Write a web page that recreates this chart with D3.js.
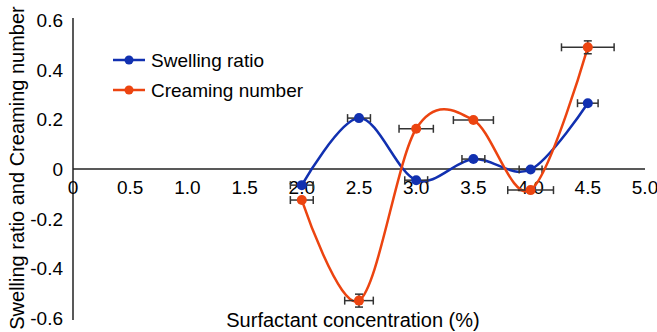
<!DOCTYPE html>
<html>
<head>
<meta charset="utf-8">
<script src="https://cdn.jsdelivr.net/npm/d3@7"></script>
<style>
	body { margin: 0; background: #fff; }
	text { font-family: "Liberation Sans", Arial, sans-serif; fill: #000; }
</style>
</head>
<body>
<div class="chart"></div>
<script>
	// data
	var conc = [2.0, 2.5, 3.0, 3.5, 4.0, 4.5];
	var swelling = [-0.065, 0.205, -0.045, 0.04, -0.002, 0.265];
	var creaming = [-0.125, -0.53, 0.162, 0.197, -0.085, 0.49];
	var swellingErrX = [0.1, 0.1, 0.1, 0.1, 0.1, 0.09];
	var creamingErrX = [0.1, 0.125, 0.15, 0.175, 0.2, 0.23];
	var swellingErrY = [0, 0, 0, 0, 0, 0];
	var creamingErrY = [0, 0.026, 0, 0, 0, 0.026];
	var xTicks = [0, 0.5, 1.0, 1.5, 2.0, 2.5, 3.0, 3.5, 4.0, 4.5, 5.0];
	var yTicks = [0.6, 0.4, 0.2, 0, -0.2, -0.4, -0.6];

	var width = 657,
		height = 332;

	var svg = d3.select(".chart").append("svg")
		.attr("width", width)
		.attr("height", height);

	var x = d3.scaleLinear().domain([0, 5]).range([73, 645]);
	var y = d3.scaleLinear().domain([-0.6, 0.6]).range([318, 20]);

	// axes lines
	svg.append("line")
		.attr("x1", x(0)).attr("x2", x(0))
		.attr("y1", y(0.6) - 2).attr("y2", y(-0.6) + 2)
		.attr("stroke", "#222").attr("stroke-width", 1.5);
	svg.append("line")
		.attr("x1", x(0)).attr("x2", x(5))
		.attr("y1", y(0)).attr("y2", y(0))
		.attr("stroke", "#222").attr("stroke-width", 1.5);

	// tick labels
	svg.selectAll(".ytick")
		.data(yTicks).enter()
		.append("text")
		.attr("class", "ytick")
		.attr("x", 63)
		.attr("y", function(d) { return y(d) + 7; })
		.attr("text-anchor", "end")
		.style("font-size", "19px")
		.text(function(d) { return d === 0 ? "0" : d.toFixed(1); });

	svg.selectAll(".xtick")
		.data(xTicks).enter()
		.append("text")
		.attr("class", "xtick")
		.attr("x", function(d) { return x(d); })
		.attr("y", 194)
		.attr("text-anchor", "middle")
		.style("font-size", "19px")
		.text(function(d) { return d === 0 ? "0" : d.toFixed(1); });

	// axis titles
	svg.append("text")
		.attr("x", 353)
		.attr("y", 327)
		.attr("text-anchor", "middle")
		.style("font-size", "20px")
		.text("Surfactant concentration (%)");

	svg.append("text")
		.attr("transform", "translate(24,168) rotate(-90)")
		.attr("text-anchor", "middle")
		.style("font-size", "20px")
		.text("Swelling ratio and Creaming number");

	var series = [
		{name: "Swelling ratio", color: "#1130b0", vals: swelling, ex: swellingErrX, ey: swellingErrY},
		{name: "Creaming number", color: "#ec4410", vals: creaming, ex: creamingErrX, ey: creamingErrY}
	];

	var line = d3.line()
		.curve(d3.curveCatmullRom.alpha(0))
		.x(function(d) { return x(d[0]); })
		.y(function(d) { return y(d[1]); });

	series.forEach(function(s) {
		var pts = conc.map(function(c, i) { return [c, s.vals[i]]; });

		svg.append("path")
			.datum(pts)
			.attr("d", line)
			.attr("fill", "none")
			.attr("stroke", s.color)
			.attr("stroke-width", 2.5);

		var g = svg.append("g");
		// error bars
		conc.forEach(function(c, i) {
			var yy = y(s.vals[i]);
			var x1 = x(c - s.ex[i]), x2 = x(c + s.ex[i]);
			g.append("line").attr("x1", x1).attr("x2", x2).attr("y1", yy).attr("y2", yy)
				.attr("stroke", "#333").attr("stroke-width", 1.5);
			g.append("line").attr("x1", x1).attr("x2", x1).attr("y1", yy - 4).attr("y2", yy + 4)
				.attr("stroke", "#333").attr("stroke-width", 1.5);
			g.append("line").attr("x1", x2).attr("x2", x2).attr("y1", yy - 4).attr("y2", yy + 4)
				.attr("stroke", "#333").attr("stroke-width", 1.5);
			if (s.ey[i] > 0) {
				var y1 = y(s.vals[i] + s.ey[i]), y2 = y(s.vals[i] - s.ey[i]);
				var xx = x(c);
				g.append("line").attr("x1", xx).attr("x2", xx).attr("y1", y1).attr("y2", y2)
					.attr("stroke", "#333").attr("stroke-width", 1.5);
				g.append("line").attr("x1", xx - 4).attr("x2", xx + 4).attr("y1", y1).attr("y2", y1)
					.attr("stroke", "#333").attr("stroke-width", 1.5);
				g.append("line").attr("x1", xx - 4).attr("x2", xx + 4).attr("y1", y2).attr("y2", y2)
					.attr("stroke", "#333").attr("stroke-width", 1.5);
			}
		});

		svg.selectAll(null)
			.data(pts).enter()
			.append("circle")
			.attr("cx", function(d) { return x(d[0]); })
			.attr("cy", function(d) { return y(d[1]); })
			.attr("r", 5)
			.attr("fill", s.color);
	});

	// legend
	var legend = svg.selectAll(".legend")
		.data(series).enter()
		.append("g")
		.attr("class", "legend")
		.attr("transform", function(d, i) { return "translate(113," + (60 + i * 30) + ")"; });

	legend.append("line")
		.attr("x1", 0).attr("x2", 32)
		.attr("stroke", function(d) { return d.color; })
		.attr("stroke-width", 2.5);
	legend.append("circle")
		.attr("cx", 16).attr("r", 4.5)
		.attr("fill", function(d) { return d.color; });
	legend.append("text")
		.attr("x", 38)
		.attr("y", 7)
		.style("font-size", "19px")
		.text(function(d) { return d.name; });
</script>
</body>
</html>
